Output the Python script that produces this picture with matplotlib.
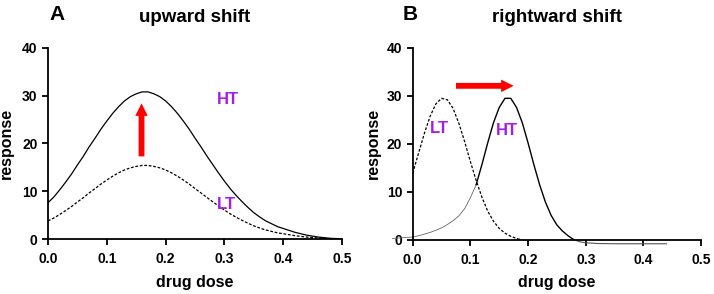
import numpy as np
import matplotlib
matplotlib.use("Agg")
import matplotlib.pyplot as plt

plt.rcParams['font.family'] = ['Liberation Sans', 'DejaVu Sans']
plt.rcParams['font.weight'] = 'bold'

# --- Panel A: upward shift ---
dose_a = [round(0.01 * i, 2) for i in range(51)]
ht_a = [7.6, 8.8, 10.3, 11.9, 13.6, 15.5, 17.3, 19.3, 21.1, 23.0,
        24.7, 26.3, 27.7, 28.9, 29.8, 30.4, 30.8, 30.8, 30.4, 29.8,
        28.9, 27.7, 26.3, 24.7, 23.0, 21.1, 19.3, 17.4, 15.6, 13.8,
        12.1, 10.5, 9.1, 7.8, 6.6, 5.5, 4.6, 3.8, 3.2, 2.6,
        2.2, 1.8, 1.4, 1.1, 0.8, 0.6, 0.4, 0.28, 0.15, 0.1, 0.05]
lt_a = [3.8, 4.4, 5.15, 5.95, 6.8, 7.75, 8.65, 9.65, 10.55, 11.5,
        12.35, 13.15, 13.85, 14.45, 14.9, 15.2, 15.4, 15.4, 15.2, 14.9,
        14.45, 13.85, 13.15, 12.35, 11.5, 10.55, 9.65, 8.7, 7.8, 6.9,
        6.05, 5.25, 4.55, 3.9, 3.3, 2.75, 2.3, 1.9, 1.6, 1.3,
        1.1, 0.9, 0.7, 0.55, 0.4, 0.3, 0.2, 0.14, 0.08, 0.05, 0.03]

# --- Panel B: rightward shift ---
dose_b_lt = [0.00, 0.01, 0.02, 0.03, 0.04, 0.05, 0.06, 0.07, 0.08, 0.09, 0.10,
             0.11, 0.12, 0.13, 0.14, 0.15, 0.16, 0.17, 0.18, 0.19]
lt_b = [13.9, 18.0, 22.1, 25.7, 28.3, 29.5, 29.2, 27.4, 24.3, 20.5, 16.3,
        12.4, 8.9, 6.0, 3.9, 2.4, 1.4, 0.75, 0.3, 0.0]
dose_b_ht = [-0.035, 0.00, 0.01, 0.02, 0.03, 0.04, 0.05, 0.06, 0.07, 0.08, 0.09,
             0.10, 0.11, 0.12, 0.13, 0.14, 0.15, 0.16, 0.17, 0.18, 0.19, 0.20,
             0.21, 0.22, 0.23, 0.24, 0.25, 0.26, 0.27, 0.28, 0.29, 0.30, 0.32,
             0.35, 0.40, 0.44]
ht_b = [0.3, 0.6, 0.85, 1.2, 1.55, 2.0, 2.5, 3.2, 4.0, 5.0, 6.5,
        8.8, 11.5, 15.7, 20.2, 24.4, 27.6, 29.5, 29.5, 27.6, 24.4, 20.2,
        15.7, 11.5, 7.9, 5.1, 3.1, 1.8, 0.8, 0.0, -0.4, -0.6, -0.75,
        -0.8, -0.8, -0.8]

xticks = [0.0, 0.1, 0.2, 0.3, 0.4, 0.5]
yticks = [0, 10, 20, 30, 40]
purple = '#A61BE8'


def style_axes(ax, ylabelpad):
    ax.set_xlim(0, 0.5)
    ax.set_ylim(0, 40)
    ax.set_xticks(xticks)
    ax.set_xticklabels([f"{t:.1f}" for t in xticks])
    ax.set_yticks(yticks)
    for s in ['top', 'right']:
        ax.spines[s].set_visible(False)
    for s in ['left', 'bottom']:
        ax.spines[s].set_linewidth(1.3)
    ax.tick_params(direction='out', length=4.5, width=1.3, labelsize=10, pad=3)
    ax.tick_params(axis='x', pad=5)
    for lab in ax.get_xticklabels() + ax.get_yticklabels():
        lab.set_fontweight('bold')
    ax.set_xlabel("drug dose", fontsize=11.5, fontweight='bold', labelpad=6)
    ax.set_ylabel("response", fontsize=11.5, fontweight='bold', labelpad=ylabelpad)


fig = plt.figure(figsize=(7.14, 2.94), dpi=100)
ax1 = fig.add_axes([0.0672, 0.187, 0.412, 0.650])
ax2 = fig.add_axes([0.578, 0.184, 0.404, 0.653])

# panel A
ax1.plot(dose_a, ht_a, color='black', lw=0.9)
ax1.plot(dose_a, lt_a, color='black', lw=0.9, dashes=(2.2, 1.4))
ax1.annotate('', xy=(0.159, 28.4), xytext=(0.159, 17.3),
             arrowprops=dict(facecolor='red', edgecolor='none', width=4.2,
                             headwidth=9, headlength=9))
ax1.text(0.305, 29.1, 'HT', color=purple, fontsize=12, fontweight='bold',
         ha='center', va='center')
ax1.text(0.304, 7.3, 'LT', color=purple, fontsize=12, fontweight='bold',
         ha='center', va='center')
style_axes(ax1, 6)

# panel B
dose_b_ht = np.array(dose_b_ht)
ht_b = np.array(ht_b)
left = dose_b_ht <= 0.11
mid = (dose_b_ht >= 0.11) & (dose_b_ht <= 0.28)
right = dose_b_ht >= 0.28
ax2.plot(dose_b_ht[left], ht_b[left], color='#666666', lw=0.6, clip_on=False)
ax2.plot(dose_b_ht[mid], ht_b[mid], color='black', lw=1.0)
ax2.plot(dose_b_ht[right], ht_b[right], color='#555555', lw=0.8, clip_on=False)
ax2.plot(dose_b_lt, lt_b, color='black', lw=0.9, dashes=(2.2, 1.4))
ax2.annotate('', xy=(0.175, 32.1), xytext=(0.075, 32.1),
             arrowprops=dict(facecolor='red', edgecolor='none', width=4.2,
                             headwidth=9, headlength=9))
ax2.text(0.047, 23.3, 'LT', color=purple, fontsize=12, fontweight='bold',
         ha='center', va='center')
ax2.text(0.163, 22.8, 'HT', color=purple, fontsize=12, fontweight='bold',
         ha='center', va='center')
style_axes(ax2, 4)

# panel letters and titles
fig.text(0.080, 0.949, 'A', fontsize=15, fontweight='bold', ha='center', va='center')
fig.text(0.273, 0.942, 'upward shift', fontsize=13.5, fontweight='bold', ha='center', va='center')
fig.text(0.574, 0.952, 'B', fontsize=15, fontweight='bold', ha='center', va='center')
fig.text(0.780, 0.942, 'rightward shift', fontsize=13.5, fontweight='bold', ha='center', va='center')

fig.savefig("out.png", dpi=100)
